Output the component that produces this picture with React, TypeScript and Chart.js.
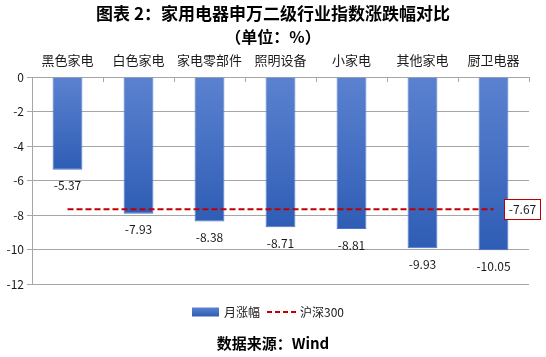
import React, { useEffect, useRef } from 'react';
import { Chart, registerables } from 'chart.js';

Chart.register(...registerables);

const categories = ['黑色家电', '白色家电', '家电零部件', '照明设备', '小家电', '其他家电', '厨卫电器'];
const monthlyChange = [-5.37, -7.93, -8.38, -8.71, -8.81, -9.93, -10.05];
const hs300Value = -7.67;
const hs300Line = [-7.67, -7.67, -7.67, -7.67, -7.67, -7.67, -7.67];
const yMin = -12;
const yMax = 0;
const yStep = 2;
const titleLines = ['图表 2：家用电器申万二级行业指数涨跌幅对比', '（单位：%）'];
const seriesNames = ['月涨幅', '沪深300'];
const sourceText = '数据来源：Wind';

const FONT = '"Noto Sans CJK SC", "Noto Sans", sans-serif';
const BAR_TOP = '#5b82d0';
const BAR_BOTTOM = '#2f5db5';
const RED = '#c00000';
const GRID = '#a6a6a6';

const overlayPlugin = {
  id: 'overlay',
  afterDraw(chart: any) {
    const ctx = chart.ctx as CanvasRenderingContext2D;
    const area = chart.chartArea;
    const xs = chart.scales.x;
    const ys = chart.scales.y;
    ctx.save();

    // category tick marks along the top axis (pointing into plot)
    ctx.strokeStyle = GRID;
    ctx.lineWidth = 1;
    const n = categories.length;
    const cw = (area.right - area.left) / n;
    for (let i = 0; i <= n; i++) {
      const x = Math.round(area.left + i * cw) + 0.5;
      ctx.beginPath();
      ctx.moveTo(x, area.top);
      ctx.lineTo(x, area.top + 5);
      ctx.stroke();
    }

    // bar value labels
    const meta = chart.getDatasetMeta(0);
    ctx.fillStyle = '#1a1a1a';
    ctx.font = `12px ${FONT}`;
    ctx.textAlign = 'center';
    ctx.textBaseline = 'middle';
    meta.data.forEach((el: any, i: number) => {
      ctx.fillText(monthlyChange[i].toFixed(2), el.x, el.y + 16);
    });

    // hs300 value box
    const ly = ys.getPixelForValue(hs300Value);
    const bx = 504.5, bw = 36, bh = 20;
    ctx.fillStyle = '#ffffff';
    ctx.fillRect(bx, ly - bh / 2, bw, bh);
    ctx.strokeStyle = RED;
    ctx.lineWidth = 1;
    ctx.strokeRect(bx, Math.round(ly - bh / 2) + 0.5, bw, bh);
    ctx.fillStyle = '#1a1a1a';
    ctx.fillText(hs300Value.toFixed(2), bx + bw / 2, ly + 0.5);

    // title
    ctx.fillStyle = '#000000';
    ctx.font = `bold 17px ${FONT}`;
    ctx.fillText(titleLines[0], 273, 14);
    ctx.font = `bold 16px ${FONT}`;
    ctx.fillText(titleLines[1], 273, 37);

    // legend
    const legY = 312;
    const g = ctx.createLinearGradient(0, legY - 4.5, 0, legY + 4.5);
    g.addColorStop(0, BAR_TOP);
    g.addColorStop(1, BAR_BOTTOM);
    ctx.fillStyle = g;
    ctx.fillRect(192, legY - 4.5, 27, 9);
    ctx.fillStyle = '#1a1a1a';
    ctx.font = `12px ${FONT}`;
    ctx.textAlign = 'left';
    ctx.fillText(seriesNames[0], 224, legY);
    ctx.strokeStyle = RED;
    ctx.lineWidth = 2;
    ctx.setLineDash([5, 3]);
    ctx.beginPath();
    ctx.moveTo(267, legY);
    ctx.lineTo(296, legY);
    ctx.stroke();
    ctx.setLineDash([]);
    ctx.fillText(seriesNames[1], 300, legY);

    // source
    ctx.textAlign = 'center';
    ctx.fillStyle = '#000000';
    ctx.font = `bold 15px ${FONT}`;
    ctx.fillText(sourceText, 273, 343);

    ctx.restore();
  },
};

export default function App() {
  const ref = useRef<HTMLCanvasElement | null>(null);
  useEffect(() => {
    if (!ref.current) return;
    const chart = new Chart(ref.current, {
      type: 'bar',
      data: {
        labels: categories,
        datasets: [
          {
            type: 'bar',
            label: seriesNames[0],
            data: monthlyChange,
            order: 2,
            backgroundColor: (c: any) => {
              const ys = c.chart.scales?.y;
              if (!ys || c.type !== 'data') return BAR_TOP;
              const t = ys.getPixelForValue(0);
              const b = ys.getPixelForValue(c.raw);
              if (!isFinite(t) || !isFinite(b) || t === b) return BAR_TOP;
              const gr = c.chart.ctx.createLinearGradient(0, t, 0, b);
              gr.addColorStop(0, BAR_TOP);
              gr.addColorStop(1, BAR_BOTTOM);
              return gr;
            },
            borderColor: '#4a76c9',
            borderWidth: 1,
            barPercentage: 0.42,
            categoryPercentage: 1,
          },
          {
            type: 'line',
            label: seriesNames[1],
            data: hs300Line,
            order: 1,
            borderColor: RED,
            borderWidth: 2,
            borderDash: [6, 3],
            pointRadius: 0,
            fill: false,
          },
        ],
      } as any,
      options: {
        animation: false,
        responsive: false,
        maintainAspectRatio: false,
        layout: { padding: { left: 0, right: 17, top: 50, bottom: 73 } },
        plugins: {
          legend: { display: false },
          title: { display: false },
          tooltip: { enabled: false },
        },
        scales: {
          x: {
            type: 'category',
            position: 'top',
            offset: true,
            grid: { display: false, drawTicks: false },
            border: { display: false },
            ticks: {
              color: '#1a1a1a',
              font: { family: FONT, size: 13 },
              padding: 9,
              maxRotation: 0,
              autoSkip: false,
            },
            afterFit: (s: any) => {
              s.height = 27;
            },
          },
          y: {
            min: yMin,
            max: yMax,
            ticks: {
              stepSize: yStep,
              color: '#1a1a1a',
              font: { family: FONT, size: 12 },
              padding: 3,
            },
            grid: { color: GRID, tickLength: 5, tickColor: GRID },
            border: { display: true, color: GRID },
            afterFit: (s: any) => {
              s.width = 32;
            },
          },
        },
      } as any,
      plugins: [overlayPlugin],
    });
    return () => chart.destroy();
  }, []);
  return (
    <div style={{ position: 'fixed', left: 0, top: 0, width: 546, height: 357, background: '#fff' }}>
      <canvas ref={ref} width={546} height={357} style={{ width: 546, height: 357, display: 'block' }} />
    </div>
  );
}
